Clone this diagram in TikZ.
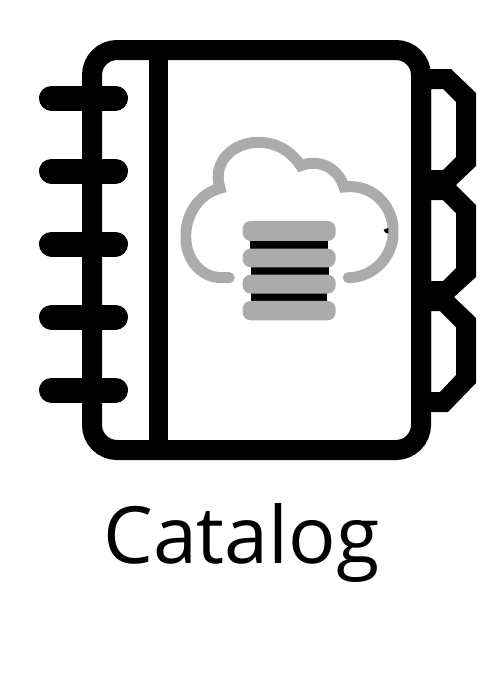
\documentclass[tikz,border=0pt]{standalone}
\usepackage{fontspec}
\setmainfont{Open Sans}
\definecolor{cloudgrey}{HTML}{ABABAB}
\tikzset{
  ink/.style={line width=20pt,black},
  ringbar/.style={line width=25pt,black,line cap=round},
  cloudline/.style={line width=11pt,cloudgrey,line cap=round,line join=miter},
  disc/.style={fill=cloudgrey,rounded corners=8pt},
  gap/.style={fill=black}
}
\begin{document}
\begin{tikzpicture}[x=1pt,y=-1pt]
\useasboundingbox[fill=white] (0,0) rectangle (503,694);
% tabs
\fill[black,even odd rule]
  (425,69) -- (451,69) -- (476,93) -- (476,166) -- (456,185) -- (476,205) -- (476,277) -- (454,297) -- (476,318) -- (476,383) -- (448,412) -- (425,412) -- cycle
  (431,89) -- (443,89) -- (456,102) -- (456,157) -- (443,170) -- (431,170) -- cycle
  (431,200) -- (443,200) -- (456,213) -- (456,268) -- (443,281) -- (431,281) -- cycle
  (431,311) -- (440,311) -- (456,327) -- (456,375) -- (440,392) -- (431,392) -- cycle;
% book
\draw[ink,rounded corners=25pt] (92,50) rectangle (421,450);
\fill[black] (149,50) rectangle (168,450);
% rings
\foreach \ry in {98,171,244,317,390}{
  \draw[ringbar] (51.5,\ry) -- (115.5,\ry);
}
% cloud
\begin{scope}[shift={(170,125)},x=0.3333pt,y=-0.3333pt]
  \clip (32,0) rectangle (685,620);
  \draw[cloudline] (178,458) -- (155,458)
    .. controls (90,458) and (47,400) .. (47,335)
    .. controls (47,265) and (90,205) .. (150,190)
    .. controls (125,110) and (190,52) .. (265,52)
    .. controls (320,52) and (365,80) .. (392,122)
    .. controls (450,100) and (505,130) .. (522,186)
    .. controls (605,175) and (670,240) .. (670,320)
    .. controls (670,395) and (610,458) .. (535,458);
  \fill[gap] (240,345) rectangle (474,372);
  \fill[gap] (243,425) rectangle (477,450);
  \fill[gap] (243,505) rectangle (471,529);
  \fill[disc] (218,288) rectangle (497,348);
  \fill[disc] (218,371) rectangle (497,427);
  \fill[disc] (218,449) rectangle (497,506);
  \fill[disc] (218,528) rectangle (497,586);
  \fill[black] (641,314) -- (655,309) -- (655,326) -- (645,322) -- cycle;
\end{scope}
\node[inner sep=0pt,font=\fontsize{79}{95}\selectfont,anchor=base] (label) at (241.5,563) {Catalog};
\end{tikzpicture}
\end{document}
